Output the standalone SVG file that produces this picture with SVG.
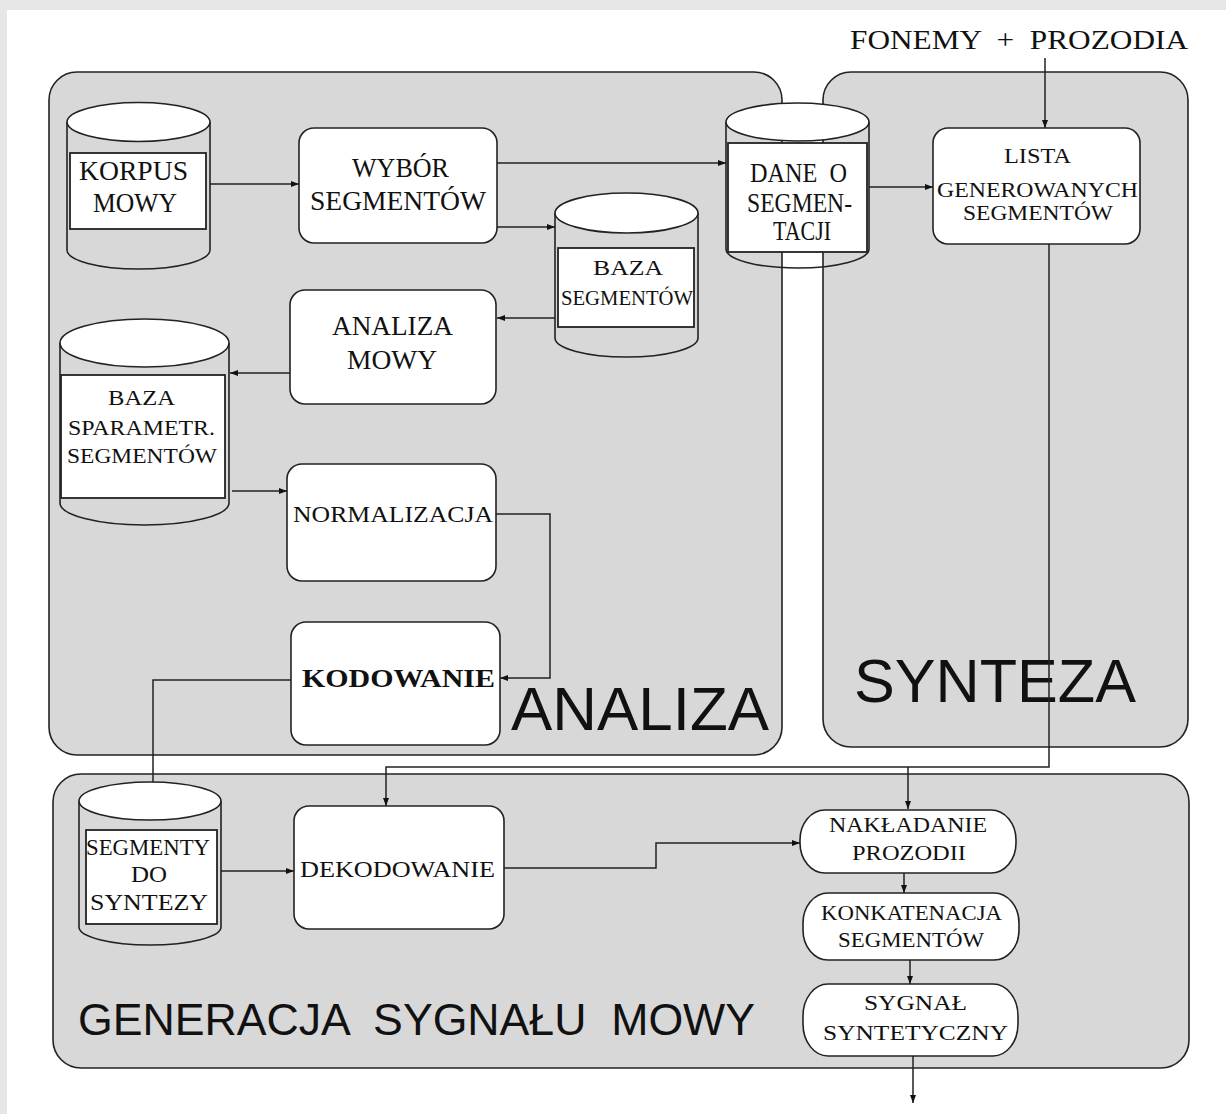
<svg xmlns="http://www.w3.org/2000/svg" width="1226" height="1114" viewBox="0 0 1226 1114">
<style>
.panel{fill:#d8d8d8;stroke:#222;stroke-width:1.6}
.box{fill:#fff;stroke:#222;stroke-width:1.6}
.cyl{fill:none;stroke:#222;stroke-width:1.6}
.top{fill:#fff;stroke:#222;stroke-width:1.6}
.in{fill:#fff;stroke:#222;stroke-width:1.8}
.lbl{font-family:"Liberation Serif","Times New Roman",serif;fill:#111}
.ttl{font-family:"Liberation Sans",Arial,sans-serif;fill:#111}
.ln{fill:none;stroke:#222;stroke-width:1.5}
</style>
<defs>
<marker id="ah" markerUnits="userSpaceOnUse" markerWidth="9" markerHeight="7" refX="8" refY="3.5" orient="auto">
<path d="M0,0.5 L8,3.5 L0,6.5 z" fill="#111"/>
</marker>
</defs>
<rect x="0" y="0" width="1226" height="1114" fill="#fff"/>
<rect x="0" y="0" width="1226" height="10" fill="#e6e6e6"/>
<rect x="0" y="0" width="7" height="1114" fill="#e6e6e6"/>

<g id="panel-analiza">
<rect class="panel" x="49" y="72" width="733" height="683" rx="28"/>
<text class="ttl" x="511" y="730" font-size="62" textLength="258" lengthAdjust="spacingAndGlyphs">ANALIZA</text>
</g>
<g id="panel-synteza">
<rect class="panel" x="823" y="72" width="365" height="675" rx="28"/>
<text class="ttl" x="854" y="702" font-size="61" textLength="282" lengthAdjust="spacingAndGlyphs">SYNTEZA</text>
</g>
<g id="panel-generacja">
<rect class="panel" x="53" y="774" width="1136" height="294" rx="28"/>
<text class="ttl" x="78" y="1035" font-size="44" textLength="677" lengthAdjust="spacingAndGlyphs" xml:space="preserve">GENERACJA  SYGNAŁU  MOWY</text>
</g>

<g id="connectors">
<path class="ln" d="M210,184 H299" marker-end="url(#ah)"/>
<path class="ln" d="M497,163 H726" marker-end="url(#ah)"/>
<path class="ln" d="M497,227 H555" marker-end="url(#ah)"/>
<path class="ln" d="M555,318 H497" marker-end="url(#ah)"/>
<path class="ln" d="M290,373 H230" marker-end="url(#ah)"/>
<path class="ln" d="M232,491 H287" marker-end="url(#ah)"/>
<path class="ln" d="M496,514 H550 V678 H500" marker-end="url(#ah)"/>
<path class="ln" d="M291,680 H153 V782"/>
<path class="ln" d="M1045,58 V128" marker-end="url(#ah)"/>
<path class="ln" d="M869,187 H933" marker-end="url(#ah)"/>
<path class="ln" d="M1049,244 V767 H386 V806" marker-end="url(#ah)"/>
<path class="ln" d="M908,767 V809" marker-end="url(#ah)"/>
<path class="ln" d="M221,871 H294" marker-end="url(#ah)"/>
<path class="ln" d="M504,868 H656 V843 H800" marker-end="url(#ah)"/>
<path class="ln" d="M904,873 V893" marker-end="url(#ah)"/>
<path class="ln" d="M910,960 V984" marker-end="url(#ah)"/>
<path class="ln" d="M913,1056 V1103" marker-end="url(#ah)"/>
</g>

<g id="fonemy-prozodia">
<text class="lbl" x="850" y="49" font-size="27" textLength="338" lengthAdjust="spacingAndGlyphs" xml:space="preserve">FONEMY  +  PROZODIA</text>
</g>

<g id="korpus-mowy">
<path class="cyl" d="M67,122 V250 A71.5,19 0 0 0 210,250 V122"/>
<ellipse class="top" cx="138.5" cy="122" rx="71.5" ry="19.5"/>
<rect class="in" x="70" y="153" width="136" height="76"/>
<text class="lbl" x="79" y="180" font-size="28" textLength="109" lengthAdjust="spacingAndGlyphs">KORPUS</text>
<text class="lbl" x="93" y="212" font-size="28" textLength="84" lengthAdjust="spacingAndGlyphs">MOWY</text>
</g>

<g id="wybor-segmentow">
<rect class="box" x="299" y="128" width="198" height="115" rx="15"/>
<text class="lbl" x="352" y="177" font-size="27" textLength="97" lengthAdjust="spacingAndGlyphs">WYBÓR</text>
<text class="lbl" x="310" y="210" font-size="27" textLength="176" lengthAdjust="spacingAndGlyphs">SEGMENTÓW</text>
</g>

<g id="dane-o-segmentacji">
<path class="cyl" d="M726,122 V249 A71.5,19 0 0 0 869,249 V122"/>
<ellipse class="top" cx="797.5" cy="122" rx="71.5" ry="19"/>
<rect class="in" x="728" y="143" width="139" height="109"/>
<text class="lbl" x="750" y="182" font-size="27" textLength="97" lengthAdjust="spacingAndGlyphs" xml:space="preserve">DANE  O</text>
<text class="lbl" x="747" y="212" font-size="27" textLength="105" lengthAdjust="spacingAndGlyphs">SEGMEN-</text>
<text class="lbl" x="773" y="240" font-size="27" textLength="58" lengthAdjust="spacingAndGlyphs">TACJI</text>
</g>

<g id="baza-segmentow">
<path class="cyl" d="M555,213 V338 A71.5,19 0 0 0 698,338 V213"/>
<ellipse class="top" cx="626.5" cy="213" rx="71.5" ry="20"/>
<rect class="in" x="558" y="248" width="136" height="79"/>
<text class="lbl" x="593" y="275" font-size="22" textLength="70" lengthAdjust="spacingAndGlyphs">BAZA</text>
<text class="lbl" x="561" y="305" font-size="22" textLength="132" lengthAdjust="spacingAndGlyphs">SEGMENTÓW</text>
</g>

<g id="analiza-mowy">
<rect class="box" x="290" y="290" width="206" height="114" rx="15"/>
<text class="lbl" x="332" y="335" font-size="27" textLength="121" lengthAdjust="spacingAndGlyphs">ANALIZA</text>
<text class="lbl" x="347" y="369" font-size="27" textLength="90" lengthAdjust="spacingAndGlyphs">MOWY</text>
</g>

<g id="baza-sparametr">
<path class="cyl" d="M60,343 V503 A84.5,22 0 0 0 229,503 V343"/>
<ellipse class="top" cx="144.5" cy="343" rx="84.5" ry="24"/>
<rect class="in" x="61" y="375" width="164" height="123"/>
<text class="lbl" x="108" y="405" font-size="22" textLength="67" lengthAdjust="spacingAndGlyphs">BAZA</text>
<text class="lbl" x="68" y="435" font-size="22" textLength="147" lengthAdjust="spacingAndGlyphs">SPARAMETR.</text>
<text class="lbl" x="67" y="463" font-size="22" textLength="150" lengthAdjust="spacingAndGlyphs">SEGMENTÓW</text>
</g>

<g id="normalizacja">
<rect class="box" x="287" y="464" width="209" height="117" rx="15"/>
<text class="lbl" x="293" y="522" font-size="24" textLength="200" lengthAdjust="spacingAndGlyphs">NORMALIZACJA</text>
</g>

<g id="kodowanie">
<rect class="box" x="291" y="622" width="209" height="123" rx="15"/>
<text class="lbl" x="302" y="687" font-size="26" font-weight="bold" textLength="193" lengthAdjust="spacingAndGlyphs">KODOWANIE</text>
</g>

<g id="lista">
<rect class="box" x="933" y="128" width="207" height="116" rx="15"/>
<text class="lbl" x="1004" y="163" font-size="21" textLength="67" lengthAdjust="spacingAndGlyphs">LISTA</text>
<text class="lbl" x="937" y="197" font-size="21" textLength="201" lengthAdjust="spacingAndGlyphs">GENEROWANYCH</text>
<text class="lbl" x="963" y="220" font-size="21" textLength="150" lengthAdjust="spacingAndGlyphs">SEGMENTÓW</text>
</g>

<g id="segmenty-do-syntezy">
<path class="cyl" d="M79,801 V927 A71,18 0 0 0 221,927 V801"/>
<ellipse class="top" cx="150" cy="801" rx="71" ry="19"/>
<rect class="in" x="86" y="830" width="131" height="94"/>
<text class="lbl" x="86" y="855" font-size="24" textLength="124" lengthAdjust="spacingAndGlyphs">SEGMENTY</text>
<text class="lbl" x="131" y="882" font-size="24" textLength="36" lengthAdjust="spacingAndGlyphs">DO</text>
<text class="lbl" x="90" y="910" font-size="24" textLength="118" lengthAdjust="spacingAndGlyphs">SYNTEZY</text>
</g>

<g id="dekodowanie">
<rect class="box" x="294" y="806" width="210" height="123" rx="15"/>
<text class="lbl" x="300" y="877" font-size="24" textLength="195" lengthAdjust="spacingAndGlyphs">DEKODOWANIE</text>
</g>

<g id="nakladanie-prozodii">
<rect class="box" x="800" y="810" width="216" height="63" rx="25" ry="30"/>
<text class="lbl" x="829" y="832" font-size="22" textLength="158" lengthAdjust="spacingAndGlyphs">NAKŁADANIE</text>
<text class="lbl" x="852" y="860" font-size="22" textLength="114" lengthAdjust="spacingAndGlyphs">PROZODII</text>
</g>

<g id="konkatenacja-segmentow">
<rect class="box" x="803" y="893" width="216" height="67" rx="25" ry="30"/>
<text class="lbl" x="821" y="920" font-size="22" textLength="181" lengthAdjust="spacingAndGlyphs">KONKATENACJA</text>
<text class="lbl" x="838" y="947" font-size="22" textLength="146" lengthAdjust="spacingAndGlyphs">SEGMENTÓW</text>
</g>

<g id="sygnal-syntetyczny">
<rect class="box" x="803" y="984" width="215" height="72" rx="25" ry="32"/>
<text class="lbl" x="864" y="1010" font-size="22" textLength="103" lengthAdjust="spacingAndGlyphs">SYGNAŁ</text>
<text class="lbl" x="823" y="1040" font-size="22" textLength="185" lengthAdjust="spacingAndGlyphs">SYNTETYCZNY</text>
</g>
</svg>
